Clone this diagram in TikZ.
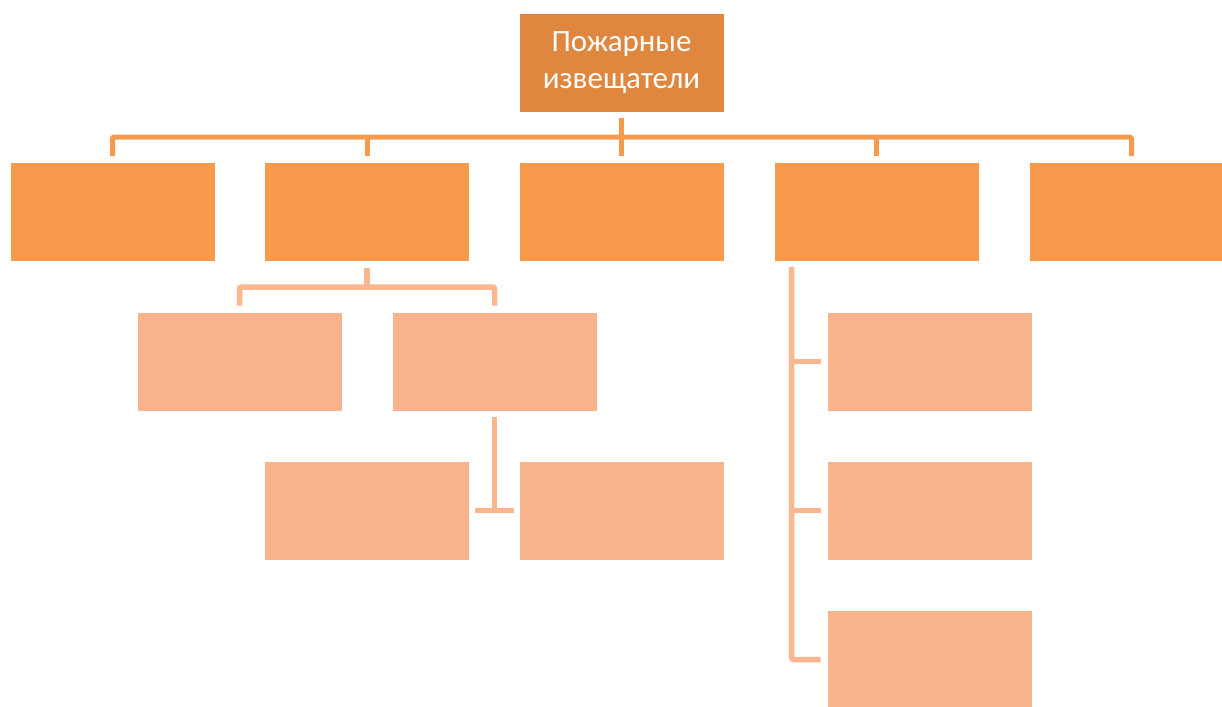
\documentclass[tikz,border=0pt]{standalone}
\usepackage{fontspec}
\setmainfont{Carlito}
\definecolor{topfill}{HTML}{E0873F}
\definecolor{lonefill}{HTML}{F79A4B}
\definecolor{ltwofill}{HTML}{F9B38C}
\definecolor{lonecon}{HTML}{F79A4B}
\definecolor{ltwocon}{HTML}{FAB78F}
\tikzset{
  boxbase/.style={rectangle, inner sep=0pt, minimum width=205pt, minimum height=99pt, draw=white, line width=0.6pt},
  topbox/.style={boxbase, fill=topfill, text=white, align=center, font=\fontsize{31}{37}\selectfont},
  onebox/.style={boxbase, fill=lonefill},
  twobox/.style={boxbase, fill=ltwofill},
  conone/.style={draw=lonecon, line width=5pt, rounded corners=2pt},
  contwo/.style={draw=ltwocon, line width=5.5pt, rounded corners=2pt}
}
\begin{document}
\begin{tikzpicture}[x=1pt,y=-1pt]
\clip (0,0) rectangle (1222,706);
\fill[white] (0,0) rectangle (1222,706);
% nodes
\node[topbox] (top) at (621.5,62.5) {Пожарные\\извещатели};
\node[onebox] (b1) at (112.5,212) {};
\node[onebox] (b2) at (367,212) {};
\node[onebox] (b3) at (621.5,212) {};
\node[onebox] (b4) at (876.5,212) {};
\node[onebox] (b5) at (1131.5,212) {};
\node[twobox] (c1) at (239.5,361.5) {};
\node[twobox] (c2) at (494.5,361.5) {};
\node[twobox] (d1) at (366.5,510.5) {};
\node[twobox] (d2) at (621.5,510.5) {};
\node[twobox] (e1) at (929.5,361.5) {};
\node[twobox] (e2) at (929.5,510.5) {};
\node[twobox] (e3) at (929.5,659.5) {};
\coordinate (busone) at (0,137);
\coordinate (bustwo) at (0,287);
\coordinate (vr) at ([xshift=18pt]b4.south west);
% level 1 connectors
\draw[conone] ([yshift=-6pt]top.south) -- (top.south |- busone);
\draw[conone] ([yshift=6pt]b1.north) -- (b1.north |- busone) -- (b5.north |- busone) -- ([yshift=6pt]b5.north);
\draw[conone] (b2.north |- busone) -- ([yshift=6pt]b2.north);
\draw[conone] (b3.north |- busone) -- ([yshift=6pt]b3.north);
\draw[conone] (b4.north |- busone) -- ([yshift=6pt]b4.north);
% level 2 connectors (left)
\draw[contwo] ([yshift=-6pt]b2.south) -- (b2.south |- bustwo);
\draw[contwo] ([yshift=6pt]c1.north) -- (c1.north |- bustwo) -- (c2.north |- bustwo) -- ([yshift=6pt]c2.north);
% level 3 connectors
\draw[contwo] ([yshift=-6pt]c2.south) -- (c2.south |- d1.east);
\draw[contwo] ([xshift=6pt]d1.east) -- ([xshift=-5pt]d2.west);
% right branch
\draw[contwo] ([yshift=-5pt]vr) -- (vr |- e3.west) -- ([xshift=-6pt]e3.west);
\draw[contwo] (vr |- e1.west) -- ([xshift=-6pt]e1.west);
\draw[contwo] (vr |- e2.west) -- ([xshift=-6pt]e2.west);
\end{tikzpicture}
\end{document}
